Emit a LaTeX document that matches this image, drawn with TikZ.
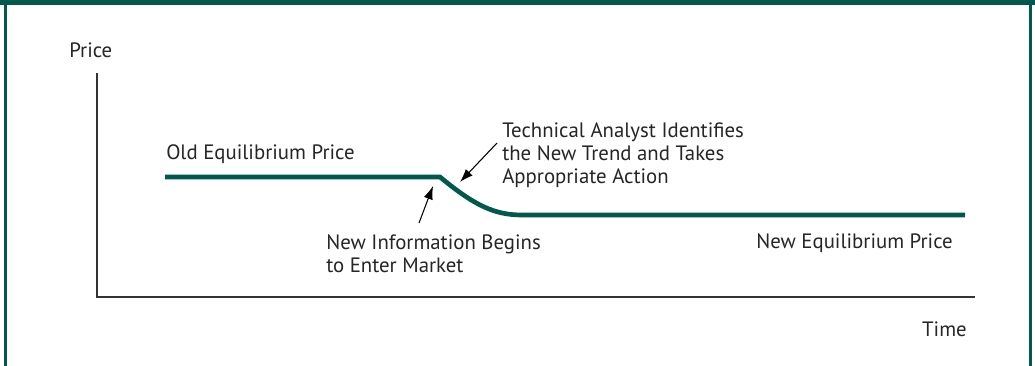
\documentclass[tikz,border=0pt]{standalone}
\usepackage{fontspec}
\setmainfont{PT Sans}
\usetikzlibrary{arrows.meta}
\definecolor{fgreen}{HTML}{00594A}
\definecolor{axisgray}{HTML}{333333}
\tikzset{
  lbl/.style={font=\fontsize{15.6}{17.6}\selectfont, text=black!85, inner sep=0pt, align=left},
  curve/.style={draw=fgreen, line width=3.5pt},
  axis/.style={draw=axisgray, line width=1pt},
  pointer/.style={draw=black, line width=0.8pt, -{Latex[length=10pt,width=7pt]}}
}
\begin{document}
\begin{tikzpicture}[x=0.75pt,y=-0.75pt]
\useasboundingbox (0,0) rectangle (1035,366);
\fill[white] (0,0) rectangle (1035,366);
% frame
\fill[fgreen] (0,0) rectangle (1035,5.5);
\fill[fgreen] (3.5,0) rectangle (7,366);
\fill[fgreen] (1028.5,0) rectangle (1032,366);
% axes
\coordinate (ytop) at (97,73);
\coordinate (orig) at (97,297);
\coordinate (xend) at (975,297);
\draw[axis] (ytop) -- (orig) -- (xend);
% labels of axes
\node[lbl, anchor=base west] (price) at (69,58) {Price};
\node[lbl, anchor=base east] (time) at (967,337) {Time};
% curve
\coordinate (c0) at (165,177);
\coordinate (c1) at (440,177);
\coordinate (c2) at (522,215);
\coordinate (c3) at (965,215);
\draw[curve] (c0) -- (c1) .. controls (475,206) and (495,215) .. (c2) -- (c3);
% texts
\node[lbl, anchor=base west] (old) at (166,160) {Old Equilibrium Price};
\node[lbl, anchor=base west] (tech) at (502,184) {Technical Analyst Identifies\\the New Trend and Takes\\Appropriate Action};
\node[lbl, anchor=base west] (info) at (326,273) {New Information Begins\\to Enter Market};
\node[lbl, anchor=base east] (new) at (953,249) {New Equilibrium Price};
% pointers
\coordinate (a1t) at (419,223);
\coordinate (a1h) at (433,186);
\coordinate (a2t) at (497,143);
\coordinate (a2h) at (460,182);
\draw[pointer] (a1t) -- (a1h);
\draw[pointer] (a2t) -- (a2h);
\end{tikzpicture}
\end{document}
